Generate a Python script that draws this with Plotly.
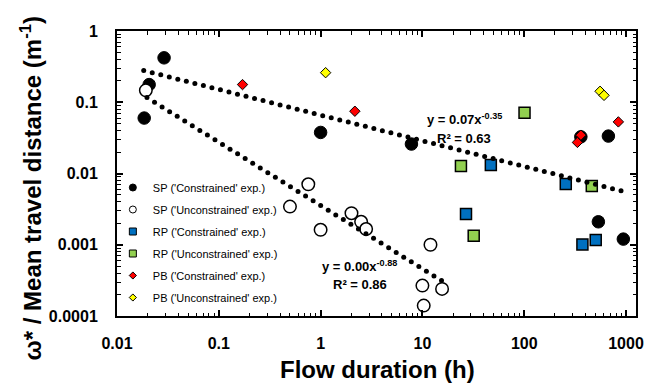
import numpy as np
import plotly.graph_objects as go

# ---------------- data ----------------
sp_con_x = [0.0185, 0.0207, 0.029, 1.0, 7.8, 360, 671, 535, 941]
sp_con_y = [0.060, 0.177, 0.42, 0.0377, 0.0259, 0.0327, 0.0335, 0.0021, 0.0012]

sp_unc_x = [0.0192, 0.757, 0.50, 1.0, 2.01, 2.5, 2.8, 12.0, 10.0, 15.6, 10.3]
sp_unc_y = [0.147, 0.00706, 0.00343, 0.00162, 0.00277, 0.0021, 0.00166, 0.0010, 0.000267, 0.00024, 0.00014]

rp_con_x = [26.8, 47, 256, 373, 504]
rp_con_y = [0.0027, 0.01315, 0.00713, 0.00101, 0.00117]

rp_unc_x = [23.9, 31.9, 100.7, 461]
rp_unc_y = [0.0127, 0.00134, 0.071, 0.00668]

pb_con_x = [0.171, 2.17, 360, 333, 841]
pb_con_y = [0.177, 0.0748, 0.0345, 0.0273, 0.053]

pb_unc_x = [1.12, 556, 608]
pb_unc_y = [0.26, 0.1425, 0.125]

# power-law trend lines: coefficient, exponent, x start, x end, number of dots
trend1 = dict(a=0.066, b=-0.36, x0=0.0183, x1=893, n=57)
trend2 = dict(a=0.00356, b=-0.888, x0=0.0197, x1=15.4, n=40)

eq1_text = ["y = 0.07x<sup>-0.35</sup>", "R² = 0.63"]
eq2_text = ["y = 0.00x<sup>-0.88</sup>", "R² = 0.86"]

x_tickvals = [0.01, 0.1, 1, 10, 100, 1000]
x_ticktext = ["0.01", "0.1", "1", "10", "100", "1000"]
y_tickvals = [0.0001, 0.001, 0.01, 0.1, 1]
y_ticktext = ["0.0001", "0.001", "0.01", "0.1", "1"]

legend_names = ["SP ('Constrained' exp.)", "SP ('Unconstrained' exp.)",
                "RP ('Constrained' exp.)", "RP ('Unconstrained' exp.)",
                "PB ('Constrained' exp.)", "PB ('Unconstrained' exp.)"]

BLUE = "#0070C0"
GREEN = "#92D050"
RED = "#FF0000"
YELLOW = "#FFFF00"

FONT = "Liberation Sans, Arial, sans-serif"

series = [
    (sp_con_x, sp_con_y, "circle", 12.5, "black", 1, legend_names[0], 7),
    (sp_unc_x, sp_unc_y, "circle", 12.5, "white", 1.5, legend_names[1], 7),
    (rp_con_x, rp_con_y, "square", 11, BLUE, 1.5, legend_names[2], 7),
    (rp_unc_x, rp_unc_y, "square", 11, GREEN, 1.5, legend_names[3], 7),
    (pb_con_x, pb_con_y, "diamond", 8, RED, 1, legend_names[4], 5.5),
    (pb_unc_x, pb_unc_y, "diamond", 8, YELLOW, 1, legend_names[5], 5.5),
]

fig = go.Figure()

for i, (xs, ys, sym, size, color, lw, name, lsize) in enumerate(series):
    fig.add_trace(go.Scatter(
        x=xs, y=ys, mode="markers", showlegend=False,
        marker=dict(symbol=sym, size=size, color=color,
                    line=dict(color="black", width=lw)),
        hoverinfo="x+y", name=name))

# trend lines drawn as round dots
for t in (trend1, trend2):
    tx = np.geomspace(t["x0"], t["x1"], t["n"])
    ty = t["a"] * tx ** t["b"]
    fig.add_trace(go.Scatter(x=tx, y=ty, mode="markers", showlegend=False,
                             marker=dict(size=5, color="black"),
                             hoverinfo="skip"))

# legend entries (small symbols)
for i, (xs, ys, sym, size, color, lw, name, lsize) in enumerate(series):
    fig.add_trace(go.Scatter(
        x=[None], y=[None], mode="markers", name=name, legendgroup=f"g{i}",
        marker=dict(symbol=sym, size=lsize, color=color,
                    line=dict(color="black", width=1))))


def minor_ticks(decades):
    return [m * d for d in decades for m in range(2, 10)]


axis_common = dict(
    type="log", showgrid=False, zeroline=False, automargin=False,
    showline=True, linecolor="black", linewidth=2, mirror="ticks",
    ticks="inside", ticklen=6, tickwidth=1.5, tickcolor="black",
    tickfont=dict(family=FONT, size=16, color="black", weight="bold"),
)

fig.update_xaxes(**axis_common, range=[-2, 3.098], tickmode="array",
                 tickvals=x_tickvals, ticktext=x_ticktext, ticklabelstandoff=12,
                 minor=dict(tickmode="array", tickvals=minor_ticks(x_tickvals),
                            ticks="inside", ticklen=3.5, tickwidth=1,
                            tickcolor="black", showgrid=False))
fig.update_yaxes(**axis_common, range=[-4, 0], tickmode="array",
                 tickvals=y_tickvals, ticktext=y_ticktext, ticklabelstandoff=14,
                 minor=dict(tickmode="array", tickvals=minor_ticks(y_tickvals[:-1]),
                            ticks="inside", ticklen=3.5, tickwidth=1,
                            tickcolor="black", showgrid=False))

W, H = 645, 383
PL, PR, PT, PB = 116.5, 636, 30.5, 316.5
pw, ph = PR - PL, PB - PT


def px(sx):
    return (sx - PL) / pw


def py(sy):
    return (PB - sy) / ph


eqfont = dict(family=FONT, size=13, color="black", weight="bold")
annotations = [
    dict(text="Flow duration (h)", xref="paper", yref="paper", x=px(377), y=py(370),
         xanchor="center", yanchor="middle", showarrow=False,
         font=dict(family=FONT, size=24, color="black", weight="bold")),
    dict(text="ω* / Mean travel distance (m<sup>-1</sup>)", xref="paper", yref="paper",
         x=px(30), y=py(188), xanchor="center", yanchor="middle", textangle=-90,
         showarrow=False, font=dict(family=FONT, size=24, color="black", weight="bold")),
    dict(text=eq1_text[0], xref="paper", yref="paper", x=px(464), y=py(119),
         xanchor="center", yanchor="middle", showarrow=False, font=eqfont),
    dict(text=eq1_text[1], xref="paper", yref="paper", x=px(464), y=py(138),
         xanchor="center", yanchor="middle", showarrow=False, font=eqfont),
    dict(text=eq2_text[0], xref="paper", yref="paper", x=px(359), y=py(266),
         xanchor="center", yanchor="middle", showarrow=False, font=eqfont),
    dict(text=eq2_text[1], xref="paper", yref="paper", x=px(359.5), y=py(285),
         xanchor="center", yanchor="middle", showarrow=False, font=eqfont),
]

fig.update_layout(
    width=W, height=H,
    margin=dict(l=PL, r=W - PR, t=PT, b=H - PB, autoexpand=False),
    paper_bgcolor="white", plot_bgcolor="white",
    annotations=annotations,
    legend=dict(x=-0.008, y=py(173), xanchor="left", yanchor="top",
                bgcolor="rgba(0,0,0,0)", itemwidth=30, tracegroupgap=3,
                traceorder="grouped",
                font=dict(family=FONT, size=11, color="black")),
)

fig.write_html("out.html",
               config={"displayModeBar": False},
               post_script="document.body.style.margin='0px';document.body.style.overflow='hidden';")
